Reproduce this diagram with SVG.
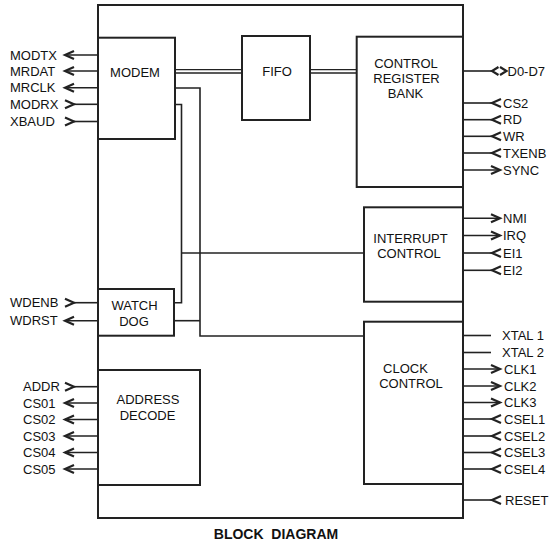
<svg xmlns="http://www.w3.org/2000/svg" width="552" height="545" viewBox="0 0 552 545">
<style>
.box{fill:#fff;stroke:#222;stroke-width:2}
.frame{fill:none;stroke:#222;stroke-width:2}
.ln{fill:none;stroke:#222;stroke-width:1.6}
.bus{fill:none;stroke:#222;stroke-width:1.3}
.pin{fill:none;stroke:#222;stroke-width:1.6}
.out{marker-end:url(#head)}
.in{marker-start:url(#tail)}
.chev{fill:none;stroke:#222;stroke-width:2.2}
text{font-family:"Liberation Sans",Arial,sans-serif;font-size:13px;fill:#111}
.c{text-anchor:middle}
.title{font-weight:bold;font-size:14px}
</style>
<defs>
<marker id="head" viewBox="-2 -2 13 12" refX="9" refY="4" markerWidth="13" markerHeight="12" markerUnits="userSpaceOnUse" orient="auto-start-reverse" overflow="visible">
<path d="M0,0 L9,4 L0,8" fill="none" stroke="#222" stroke-width="2.2"/>
</marker>
<marker id="tail" viewBox="-2 -2 13 12" refX="9" refY="4" markerWidth="13" markerHeight="12" markerUnits="userSpaceOnUse" orient="auto" overflow="visible">
<path d="M0,0 L9,4 L0,8" fill="none" stroke="#222" stroke-width="2.2"/>
</marker>
</defs>
<rect x="0" y="0" width="552" height="545" fill="#fff"/>

<g id="frame">
<rect class="frame" x="98" y="5" width="365" height="513"/>
</g>

<g id="connectors">
<line class="bus" x1="175" y1="69.7" x2="242" y2="69.7"/>
<line class="bus" x1="175" y1="73" x2="242" y2="73"/>
<line class="bus" x1="310" y1="69.7" x2="357" y2="69.7"/>
<line class="bus" x1="310" y1="73" x2="357" y2="73"/>
<polyline class="ln" points="175,88 200,88 200,336 364,336"/>
<polyline class="ln" points="175,104.5 181.5,104.5 181.5,302.7 174,302.7"/>
<line class="ln" x1="181.5" y1="253" x2="364" y2="253"/>
<line class="ln" x1="174" y1="320.7" x2="200" y2="320.7"/>
</g>

<g id="modem">
<rect class="box" x="98" y="37.7" width="77" height="101.3"/>
<text class="c" x="135" y="76.5">MODEM</text>
<line class="pin out" x1="98" y1="55" x2="65" y2="55"/>
<line class="pin out" x1="98" y1="71" x2="65" y2="71"/>
<line class="pin out" x1="98" y1="87.7" x2="65" y2="87.7"/>
<line class="pin in" x1="74" y1="104.3" x2="98" y2="104.3"/>
<line class="pin in" x1="74" y1="121.5" x2="98" y2="121.5"/>
<text x="10" y="59.7">MODTX</text>
<text x="10" y="75.7">MRDAT</text>
<text x="10" y="92.4">MRCLK</text>
<text x="10" y="109">MODRX</text>
<text x="10" y="126.2">XBAUD</text>
</g>

<g id="fifo">
<rect class="box" x="242" y="36" width="68" height="84"/>
<text class="c" x="277" y="76">FIFO</text>
</g>

<g id="control-register-bank">
<rect class="box" x="356.7" y="36.7" width="106.3" height="150.3"/>
<text class="c" x="406" y="67.5">CONTROL</text>
<text class="c" x="406.5" y="83">REGISTER</text>
<text class="c" x="405.5" y="98">BANK</text>
<line class="pin" x1="463" y1="71" x2="492" y2="71"/>
<path class="chev" d="M498.5,67 L492,71 L498.5,75 M500,67 L506.5,71 L500,75"/>
<text x="507.5" y="75.7">D0-D7</text>
<line class="pin in" x1="492" y1="103" x2="463" y2="103"/>
<line class="pin in" x1="492" y1="119.7" x2="463" y2="119.7"/>
<line class="pin in" x1="492" y1="136.3" x2="463" y2="136.3"/>
<line class="pin in" x1="492" y1="153" x2="463" y2="153"/>
<line class="pin out" x1="463" y1="170" x2="500" y2="170"/>
<text x="503" y="107.7">CS2</text>
<text x="503" y="124.4">RD</text>
<text x="503" y="141">WR</text>
<text x="503" y="157.7">TXENB</text>
<text x="503" y="174.7">SYNC</text>
</g>

<g id="interrupt-control">
<rect class="box" x="364" y="207.3" width="99" height="94.4"/>
<text class="c" x="410.5" y="243.3">INTERRUPT</text>
<text class="c" x="409" y="258.3">CONTROL</text>
<line class="pin out" x1="463" y1="218.3" x2="500" y2="218.3"/>
<line class="pin out" x1="463" y1="235.5" x2="500" y2="235.5"/>
<line class="pin in" x1="492" y1="253" x2="463" y2="253"/>
<line class="pin in" x1="492" y1="270.3" x2="463" y2="270.3"/>
<text x="503" y="223">NMI</text>
<text x="503" y="240.2">IRQ</text>
<text x="503" y="257.7">EI1</text>
<text x="503" y="275">EI2</text>
</g>

<g id="clock-control">
<rect class="box" x="364" y="321.7" width="99" height="162.3"/>
<text class="c" x="405.5" y="372.7">CLOCK</text>
<text class="c" x="411" y="388.3">CONTROL</text>
<line class="pin" x1="463" y1="335.5" x2="491" y2="335.5"/>
<line class="pin" x1="463" y1="352.5" x2="491" y2="352.5"/>
<line class="pin out" x1="463" y1="369" x2="500" y2="369"/>
<line class="pin out" x1="463" y1="386" x2="500" y2="386"/>
<line class="pin out" x1="463" y1="402.5" x2="500" y2="402.5"/>
<line class="pin in" x1="492" y1="419" x2="463" y2="419"/>
<line class="pin in" x1="492" y1="436" x2="463" y2="436"/>
<line class="pin in" x1="492" y1="452.5" x2="463" y2="452.5"/>
<line class="pin in" x1="492" y1="469" x2="463" y2="469"/>
<text x="502" y="340.2">XTAL 1</text>
<text x="502" y="357.2">XTAL 2</text>
<text x="504" y="373.7">CLK1</text>
<text x="504" y="390.7">CLK2</text>
<text x="504" y="407.2">CLK3</text>
<text x="504" y="423.7">CSEL1</text>
<text x="504" y="440.7">CSEL2</text>
<text x="504" y="457.2">CSEL3</text>
<text x="504" y="473.7">CSEL4</text>
</g>

<g id="reset">
<line class="pin in" x1="492" y1="500" x2="463" y2="500"/>
<text x="505" y="504.7">RESET</text>
</g>

<g id="watch-dog">
<rect class="box" x="98" y="289" width="76" height="46.7"/>
<text class="c" x="134.5" y="310">WATCH</text>
<text class="c" x="134" y="325.7">DOG</text>
<line class="pin in" x1="74" y1="302.7" x2="98" y2="302.7"/>
<line class="pin out" x1="98" y1="320.7" x2="65" y2="320.7"/>
<text x="10" y="307.4">WDENB</text>
<text x="10" y="325.4">WDRST</text>
</g>

<g id="address-decode">
<rect class="box" x="98" y="370" width="102" height="115"/>
<text class="c" x="148" y="404.3">ADDRESS</text>
<text class="c" x="147.5" y="420">DECODE</text>
<line class="pin in" x1="74" y1="386.7" x2="98" y2="386.7"/>
<line class="pin out" x1="98" y1="403" x2="65" y2="403"/>
<line class="pin out" x1="98" y1="419.5" x2="65" y2="419.5"/>
<line class="pin out" x1="98" y1="436" x2="65" y2="436"/>
<line class="pin out" x1="98" y1="452.5" x2="65" y2="452.5"/>
<line class="pin out" x1="98" y1="469" x2="65" y2="469"/>
<text x="23" y="391.4">ADDR</text>
<text x="23" y="407.7">CS01</text>
<text x="23" y="424.2">CS02</text>
<text x="23" y="440.7">CS03</text>
<text x="23" y="457.2">CS04</text>
<text x="23" y="473.7">CS05</text>
</g>

<text class="c title" x="276" y="539" xml:space="preserve">BLOCK  DIAGRAM</text>
</svg>
